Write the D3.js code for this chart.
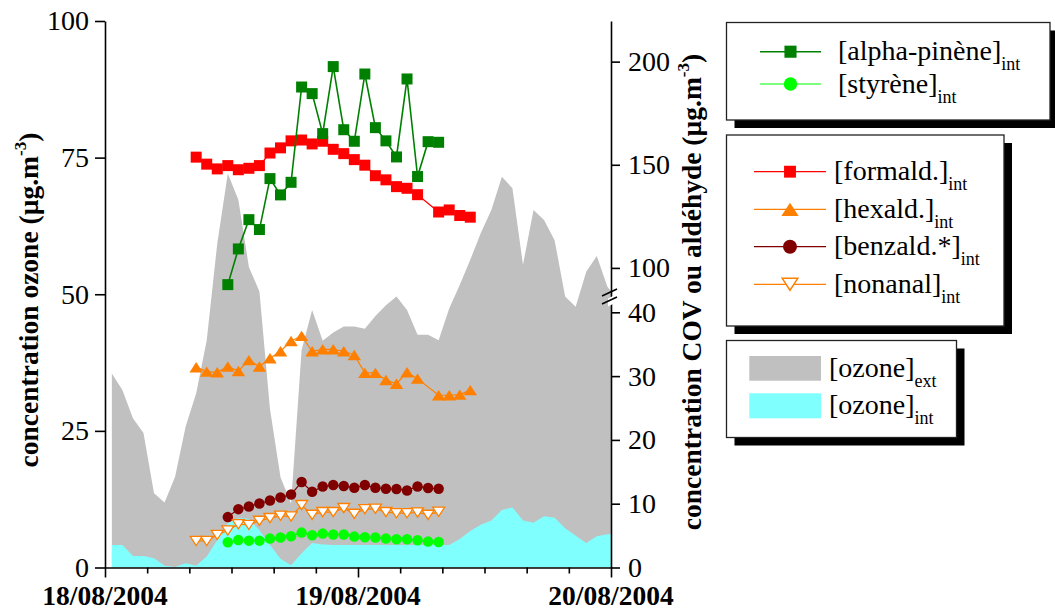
<!DOCTYPE html>
<html><head><meta charset="utf-8">
<script src="https://cdn.jsdelivr.net/npm/d3@7"></script>
<style>
body{margin:0;background:#fff}
svg{display:block}
text{font-family:"Liberation Serif","Times New Roman",serif;fill:#000}
</style>
</head><body>
<svg id="c" width="1055" height="610"></svg>
<script>
// ---------------- DATA ----------------
const dayLabels = ["18/08/2004", "19/08/2004", "20/08/2004"];
const leftTicks = [0, 25, 50, 75, 100];
const rightTicks = [0, 10, 20, 30, 40, 100, 150, 200];
const ozoneStartHour = 0.65;   // hourly samples, hours since 18/08/2004 00:00
const vocStartHour = 8.65;     // hourly samples

// ozone (left axis, µg/m3)
const ozoneExt = [35.5, 32.5, 27.3, 24.6, 13.6, 11.9, 16.6, 25.8, 31.9, 41.6, 59.3, 72.1, 67.3, 55.0, 50.5, 29.0,
  16.5, 11.7, 39.8, 47.1, 41.5, 43.0, 44.1, 44.1, 43.7, 46.0, 48.0, 49.6, 47.1, 42.6, 42.6, 41.6, 47.4, 51.7,
  56.3, 61.2, 65.4, 71.5, 69.4, 55.4, 65.4, 63.6, 59.9, 49.6, 47.7, 54.1, 57.0, 51.4, 49.0];
const ozoneInt = [4.1, 4.1, 2.1, 2.1, 1.7, 0.3, 0.1, 0.8, 0.3, 2.0, 5.0, 8.1, 9.0, 8.9, 6.8, 4.1,
  1.6, 0.4, 2.6, 4.5, 4.2, 4.1, 4.1, 4.1, 4.1, 4.1, 4.1, 4.1, 4.1, 4.1, 4.1, 4.1, 4.1, 5.2,
  6.7, 7.8, 8.6, 10.5, 11.0, 8.6, 8.2, 9.4, 9.1, 7.2, 5.8, 4.5, 5.7, 6.1, 6.1];

// VOC / aldehydes (right axis, µg/m3) ; null = no sample
const formald = [153.7, 150.3, 148.0, 149.6, 147.6, 148.3, 149.6, 155.7, 158.2, 161.6, 162.0, 160.1, 161.4,
  157.5, 155.4, 152.5, 149.8, 144.7, 142.7, 139.4, 138.6, 135.5, null, 127.1, 128.1, 125.4, 124.6];
const hexald = [31.4, 30.7, 30.6, 31.5, 30.8, 32.5, 31.5, 32.8, 33.9, 35.5, 36.3, 33.9, 34.2, 34.2, 33.9,
  33.3, 30.5, 30.5, 29.4, 28.8, 30.6, 29.6, null, 27.0, 27.0, 27.1, 27.8];
const pinene = [null, null, null, 91.9, 109.2, 123.4, 118.6, 143.3, 135.4, 141.5, 187.7, 184.5, 165.1, 197.6,
  167.0, 161.4, 194.0, 168.0, 161.6, 153.8, 191.6, 144.3, 161.2, 160.9];
const benzald = [null, null, null, 7.9, 9.15, 9.56, 10.03, 10.5, 10.97, 11.45, 13.4, 11.87, 12.7, 12.92, 12.77,
  12.5, 12.92, 12.5, 12.34, 12.3, 12.08, 12.7, 12.45, 12.34];
const nonanal = [4.17, 4.17, 5.11, 5.79, 6.79, 6.68, 7.31, 7.74, 8.10, 7.99, 9.78, 8.25, 8.68, 8.68, 9.31,
  8.41, 9.15, 9.20, 8.68, 8.52, 8.52, 8.62, 8.25, 8.73];
const styrene = [null, null, null, 3.96, 4.32, 4.21, 4.21, 4.53, 4.69, 4.91, 5.47, 5.06, 5.31, 5.16, 5.16,
  4.84, 4.75, 4.69, 4.53, 4.43, 4.43, 4.28, 4.06, 4.01];

// ---------------- CHART ----------------
const svg = d3.select("#c");
const FONT = "'Liberation Serif','Times New Roman',serif";

const x = d3.scaleLinear().domain([0, 48]).range([105, 611]);
const yL = d3.scaleLinear().domain([0, 100]).range([567.5, 21]);
// broken right axis: 0-42.4 below the break, 85.9-219.7 above it
const yR = d3.scaleLinear().domain([0, 42.4, 85.9, 219.7]).range([567.5, 297, 297, 21]);

svg.append("clipPath").attr("id", "plotclip").append("rect")
  .attr("x", x(0)).attr("y", yL(100)).attr("width", x(48) - x(0)).attr("height", yL(0) - yL(100));

const plot = svg.append("g").attr("clip-path", "url(#plotclip)");

function areaOf(vals) {
  return d3.area()
    .x((d, i) => x(ozoneStartHour + i))
    .y0(yL(0)).y1(d => yL(d))(vals);
}
plot.append("path").attr("d", areaOf(ozoneExt)).attr("fill", "#c0c0c0");
plot.append("path").attr("d", areaOf(ozoneInt)).attr("fill", "#80ffff");

// axes
const axisStyle = g => {
  g.attr("font-family", FONT).attr("font-size", 28);
  g.selectAll("path.domain").attr("stroke", "#000").attr("stroke-width", 1.6);
  g.selectAll(".tick line").attr("stroke", "#000").attr("stroke-width", 1.6);
  g.selectAll(".tick text").attr("fill", "#000");
};

svg.append("g").attr("transform", `translate(${x(0)},0)`)
  .call(d3.axisLeft(yL).tickValues(leftTicks).tickSize(10).tickSizeOuter(0).tickPadding(6))
  .call(axisStyle);

svg.append("g").attr("transform", `translate(${x(48)},0)`)
  .call(d3.axisRight(yR).tickValues(rightTicks).tickSize(9).tickSizeOuter(0).tickPadding(8))
  .call(axisStyle);

const xAxis = svg.append("g").attr("transform", `translate(0,${yL(0)})`)
  .call(d3.axisBottom(x).tickValues(d3.range(0, 49, 4)).tickSize(6).tickSizeOuter(0).tickFormat(""))
  .call(axisStyle);
xAxis.selectAll(".tick line").attr("y2", d => d % 24 === 0 ? 10 : 6);

svg.append("g").selectAll("text").data(dayLabels).join("text")
  .attr("x", (d, i) => x(i * 24)).attr("y", 605)
  .attr("text-anchor", "middle").attr("font-weight", "bold").attr("font-size", 27.5)
  .attr("font-family", FONT).text(d => d);

// axis break marks
const bx = x(48), by = yR(42.4);
svg.append("path")
  .attr("d", `M${bx - 3},${by + 1.5} L${bx + 3},${by - 1.5} L${bx + 3},${by + 6.5} L${bx - 3},${by + 9.5} Z`)
  .attr("fill", "#fff");
svg.append("line").attr("x1", bx - 9).attr("y1", by - 1).attr("x2", bx + 6).attr("y2", by - 8)
  .attr("stroke", "#000").attr("stroke-width", 1.6);
svg.append("line").attr("x1", bx - 9).attr("y1", by + 7).attr("x2", bx + 6).attr("y2", by)
  .attr("stroke", "#000").attr("stroke-width", 1.6);

// axis titles
function titleText(g, main) {
  const t = g.append("text").attr("text-anchor", "middle").attr("font-weight", "bold")
    .attr("font-size", 27.5).attr("font-family", FONT);
  t.append("tspan").text(main + " (µg.m");
  t.append("tspan").attr("font-size", 17).attr("dy", -12).text("-3");
  t.append("tspan").attr("dy", 12).text(")");
}
titleText(svg.append("g").attr("transform", "translate(38,300) rotate(-90)"), "concentration ozone");
titleText(svg.append("g").attr("transform", "translate(701,292) rotate(-90)"), "concentration COV ou aldéhyde");

// markers
function markerPath(type, s) {
  const h = s / 2;
  if (type === "square") return `M${-h},${-h}H${h}V${h}H${-h}Z`;
  if (type === "tri") return `M0,${-s * 0.4}L${s * 0.52},${s * 0.4}L${-s * 0.52},${s * 0.4}Z`;
  if (type === "itri") return `M0,${s * 0.4}L${s * 0.52},${-s * 0.4}L${-s * 0.52},${-s * 0.4}Z`;
  return null;
}
function drawSeries(vals, cfg) {
  const pts = vals.map((v, i) => ({ t: vocStartHour + i, v })).filter(d => d.v != null);
  svg.append("path").datum(pts)
    .attr("d", d3.line().x(d => x(d.t)).y(d => yR(d.v)))
    .attr("fill", "none").attr("stroke", cfg.color).attr("stroke-width", cfg.lw || 1.2);
  const g = svg.append("g");
  pts.forEach(d => {
    if (cfg.shape === "circle") {
      g.append("circle").attr("cx", x(d.t)).attr("cy", yR(d.v)).attr("r", cfg.size / 2)
        .attr("fill", cfg.fill);
    } else {
      g.append("path").attr("d", markerPath(cfg.shape, cfg.size))
        .attr("transform", `translate(${x(d.t)},${yR(d.v)})`)
        .attr("fill", cfg.fill).attr("stroke", cfg.stroke || "none").attr("stroke-width", 1.3);
    }
  });
}
const cfgFormald = { color: "#ff0000", fill: "#ff0000", shape: "square", size: 11 };
const cfgHexald = { color: "#ff8000", fill: "#ff8000", shape: "tri", size: 13 };
const cfgBenzald = { color: "#800000", fill: "#800000", shape: "circle", size: 10.5 };
const cfgNonanal = { color: "#ff8000", fill: "#ffffff", stroke: "#ff8000", shape: "itri", size: 11.5 };
const cfgStyrene = { color: "#00ff00", fill: "#00ff00", shape: "circle", size: 10.5 };
const cfgPinene = { color: "#008000", fill: "#008000", shape: "square", size: 11, lw: 1.6 };

drawSeries(formald, cfgFormald);
drawSeries(hexald, cfgHexald);
drawSeries(benzald, cfgBenzald);
drawSeries(nonanal, cfgNonanal);
drawSeries(styrene, cfgStyrene);
drawSeries(pinene, cfgPinene);

// legends
function box(x0, y0, w, h) {
  svg.append("rect").attr("x", x0 + 8).attr("y", y0 + 8).attr("width", w).attr("height", h).attr("fill", "#000");
  svg.append("rect").attr("x", x0).attr("y", y0).attr("width", w).attr("height", h)
    .attr("fill", "#fff").attr("stroke", "#222").attr("stroke-width", 1.3);
}
function label(xt, yb, main, sub) {
  const t = svg.append("text").attr("x", xt).attr("y", yb).attr("font-size", 28).attr("font-family", FONT);
  t.append("tspan").text(main);
  t.append("tspan").attr("font-size", 18).attr("dy", 10).text(sub);
}
function legendItem(lx0, lx1, mx, ly, tx, cfg, main, scale) {
  svg.append("line").attr("x1", lx0).attr("x2", lx1).attr("y1", ly).attr("y2", ly)
    .attr("stroke", cfg.color).attr("stroke-width", cfg.lw || 1.2);
  const s = cfg.size * scale;
  if (cfg.shape === "circle") {
    svg.append("circle").attr("cx", mx).attr("cy", ly).attr("r", s / 2).attr("fill", cfg.fill);
  } else {
    svg.append("path").attr("d", markerPath(cfg.shape, s)).attr("transform", `translate(${mx},${ly})`)
      .attr("fill", cfg.fill).attr("stroke", cfg.stroke || "none").attr("stroke-width", 1.5);
  }
  label(tx, ly + 8.5, main, "int");
}

box(726.5, 22.5, 323.5, 97.5);
legendItem(760, 821, 790.5, 51.7, 838, cfgPinene, "[alpha-pinène]", 1.1);
legendItem(760, 821, 790.5, 84, 838, cfgStyrene, "[styrène]", 1.28);

box(726.5, 135, 277.5, 191);
legendItem(754, 826, 790, 171.7, 834, cfgFormald, "[formald.]", 1.08);
legendItem(754, 826, 790, 209.3, 834, cfgHexald, "[hexald.]", 1.28);
legendItem(754, 826, 790, 246.7, 834, cfgBenzald, "[benzald.*]", 1.33);
legendItem(754, 826, 790, 284.3, 834, cfgNonanal, "[nonanal]", 1.3);

box(726.5, 340.5, 230, 97);
svg.append("rect").attr("x", 749.3).attr("y", 356).attr("width", 71.7).attr("height", 24.7).attr("fill", "#c0c0c0");
svg.append("rect").attr("x", 749.3).attr("y", 393.3).attr("width", 71.7).attr("height", 25).attr("fill", "#80ffff");
label(829, 376.5, "[ozone]", "ext");
label(829, 414, "[ozone]", "int");
</script>
</body></html>
